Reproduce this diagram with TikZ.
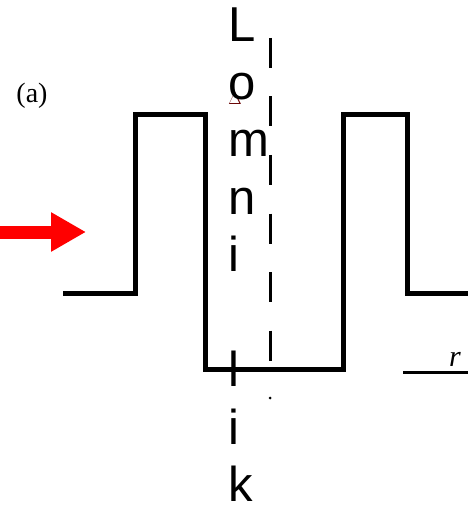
\documentclass[tikz,border=0pt]{standalone}
\usepackage{fontspec}
\newfontfamily\lettersfont{Liberation Sans}
\newfontfamily\capfont{Liberation Serif}
\usetikzlibrary{arrows.meta}
\begin{document}
\begin{tikzpicture}[x=1pt,y=-1pt]

% definitions
\tikzstyle{profile} = [line width=5pt, draw=black, line join=miter]
\tikzstyle{axisline} = [line width=3pt, draw=black]
\tikzstyle{symmetry} = [line width=3pt, draw=black, dash pattern=on 30pt off 28.5pt]
\tikzstyle{beam} = [line width=13pt, draw=red, -{Triangle[width=37pt,length=35pt]}]
\tikzstyle{caption} = [inner sep=0pt, font=\capfont\fontsize{28}{30}\selectfont]
\tikzstyle{letters} = [inner sep=0pt, align=left, font=\lettersfont\fontsize{49}{57.5}\selectfont]

\useasboundingbox (0,0) rectangle (468,505);

% the graph
\node (tag) [caption, anchor=base] at (32,103) {(a)};

\node (delta) [inner sep=0pt, text=black!60!red, font=\fontsize{17}{17}\selectfont] at (235,99) {$\Delta$};

\node (word) [letters, anchor=north west] at (228.5,8) {L\\o\\m\\n\\i\\\mbox{}\\l\\i\\k};

\node (rad) [caption, anchor=base, font=\capfont\itshape\fontsize{30}{30}\selectfont] at (455,366) {r};

\coordinate (beamstart) at (0,232);
\coordinate (beamend) at (86,232);
\draw [beam] (beamstart) -- (beamend);

% profile of the wells
\draw [profile] (63,293) -- (135,293) -- (135,115) -- (205,115) -- (205,369)
  -- (343,369) -- (343,115) -- (407,115) -- (407,293) -- (468,293);

\draw [symmetry] (270,38) -- (270,372);
\fill (270,398) circle (1.5);

\draw [axisline] (403,372) -- (468,372);

\end{tikzpicture}
\end{document}
